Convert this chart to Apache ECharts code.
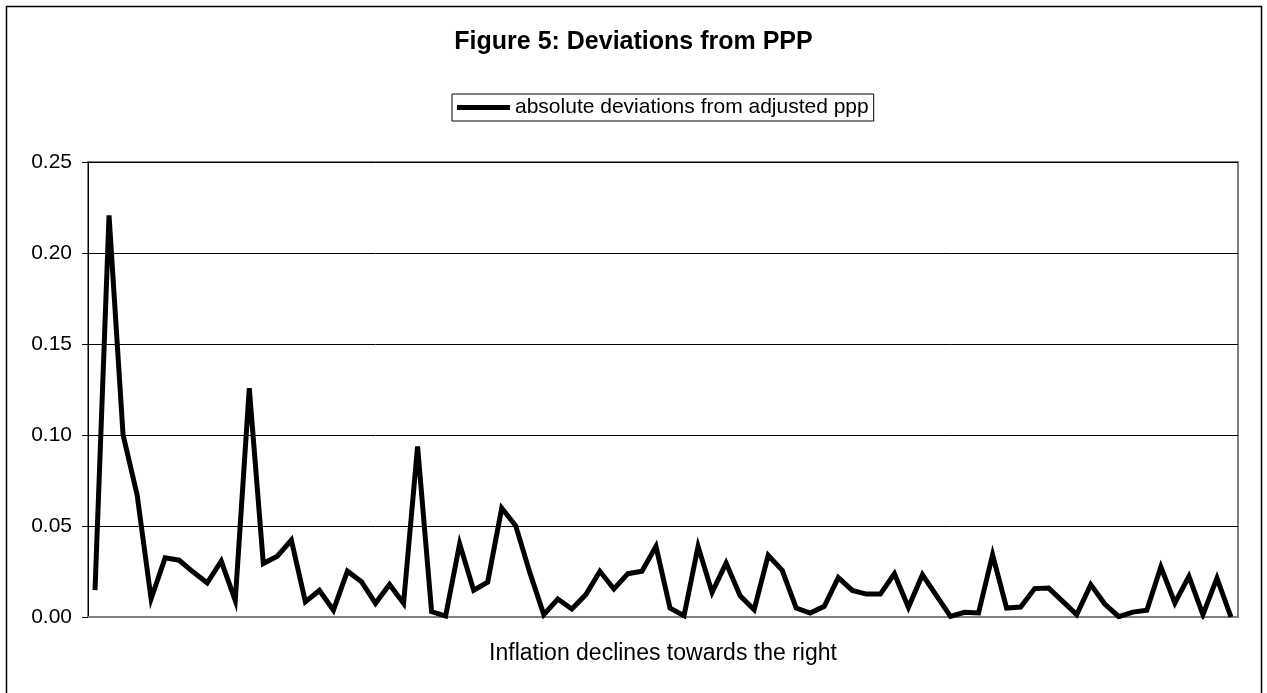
<!DOCTYPE html>
<html><head><meta charset="utf-8">
<script src="https://cdn.jsdelivr.net/npm/echarts@6/dist/echarts.min.js"></script>
<style>html,body{margin:0;padding:0;background:#fff}#c{width:1267px;height:693px}</style>
</head><body><div id="c"></div>
<script>
var categories = [];
for (var i = 1; i <= 82; i++) categories.push(String(i));
var deviations = [
0.0148,0.2207,0.1001,0.0672,0.0100,0.0325,0.0312,0.0247,0.0188,0.0307,
0.0091,0.1257,0.0294,0.0334,0.0422,0.0084,0.0146,0.0038,0.0252,0.0194,
0.0075,0.0179,0.0075,0.0937,0.0029,0.0005,0.0402,0.0147,0.0192,0.0598,
0.0501,0.0245,0.0013,0.0099,0.0044,0.0123,0.0251,0.0154,0.0238,0.0251,
0.0388,0.0049,0.0007,0.0388,0.0135,0.0296,0.0117,0.0040,0.0339,0.0256,
0.0049,0.0022,0.0059,0.0216,0.0146,0.0126,0.0126,0.0238,0.0053,0.0232,
0.0117,0.0003,0.0026,0.0022,0.0342,0.0049,0.0055,0.0156,0.0159,0.0086,
0.0013,0.0178,0.0071,0.0002,0.0027,0.0037,0.0275,0.0077,0.0223,0.0013,
0.0214,0.0000
];
var yTicks = [0, 0.05, 0.10, 0.15, 0.20, 0.25];
var titleText = 'Figure 5: Deviations from PPP';
var seriesName = 'absolute deviations from adjusted ppp';
var xAxisTitle = 'Inflation declines towards the right';

var FONT = 'Liberation Sans, Arial, sans-serif';
var chart = echarts.init(document.getElementById('c'), null, {renderer: 'canvas'});
chart.setOption({
  animation: false,
  backgroundColor: '#fff',
  graphic: [{
    type: 'rect', left: 4, top: 4, silent: true, z: -1,
    shape: {width: 1255, height: 700},
    style: {fill: 'none', stroke: '#000', lineWidth: 1.5}
  }],
  title: {
    text: titleText, left: 'center', top: 30, padding: 0,
    textStyle: {fontFamily: FONT, fontSize: 25, fontWeight: 'bold', color: '#000'}
  },
  legend: {
    left: 452, top: 94,
    padding: [3, 5, 3, 5],
    borderColor: '#000', borderWidth: 1,
    itemWidth: 53, itemHeight: 5,
    itemGap: 0,
    textStyle: {fontFamily: FONT, fontSize: 21, color: '#000'},
    data: [{name: seriesName, icon: 'rect'}]
  },
  grid: {left: 88, right: 29, top: 162, bottom: 76, show: true, borderColor: '#808080', borderWidth: 2, containLabel: false},
  xAxis: {
    type: 'category', data: categories, boundaryGap: true,
    name: xAxisTitle, nameLocation: 'middle', nameGap: 25,
    nameTextStyle: {fontFamily: FONT, fontSize: 23, color: '#000'},
    axisLine: {lineStyle: {color: '#808080', width: 2}},
    axisTick: {show: false}, axisLabel: {show: false}, splitLine: {show: false}
  },
  yAxis: {
    type: 'value', min: yTicks[0], max: yTicks[yTicks.length - 1], interval: 0.05,
    axisLine: {show: true, lineStyle: {color: '#000', width: 1}},
    axisTick: {show: true, length: 6, lineStyle: {color: '#000'}},
    axisLabel: {fontFamily: FONT, fontSize: 21, color: '#000', margin: 16,
      formatter: function (v) { return v.toFixed(2); }},
    splitLine: {show: true, lineStyle: {color: '#000', width: 1}}
  },
  series: [{
    name: seriesName, type: 'line', data: deviations,
    symbol: 'none', showSymbol: false,
    lineStyle: {color: '#000', width: 5, join: 'miter', cap: 'butt'},
    itemStyle: {color: '#000'}
  }]
});
</script></body></html>
